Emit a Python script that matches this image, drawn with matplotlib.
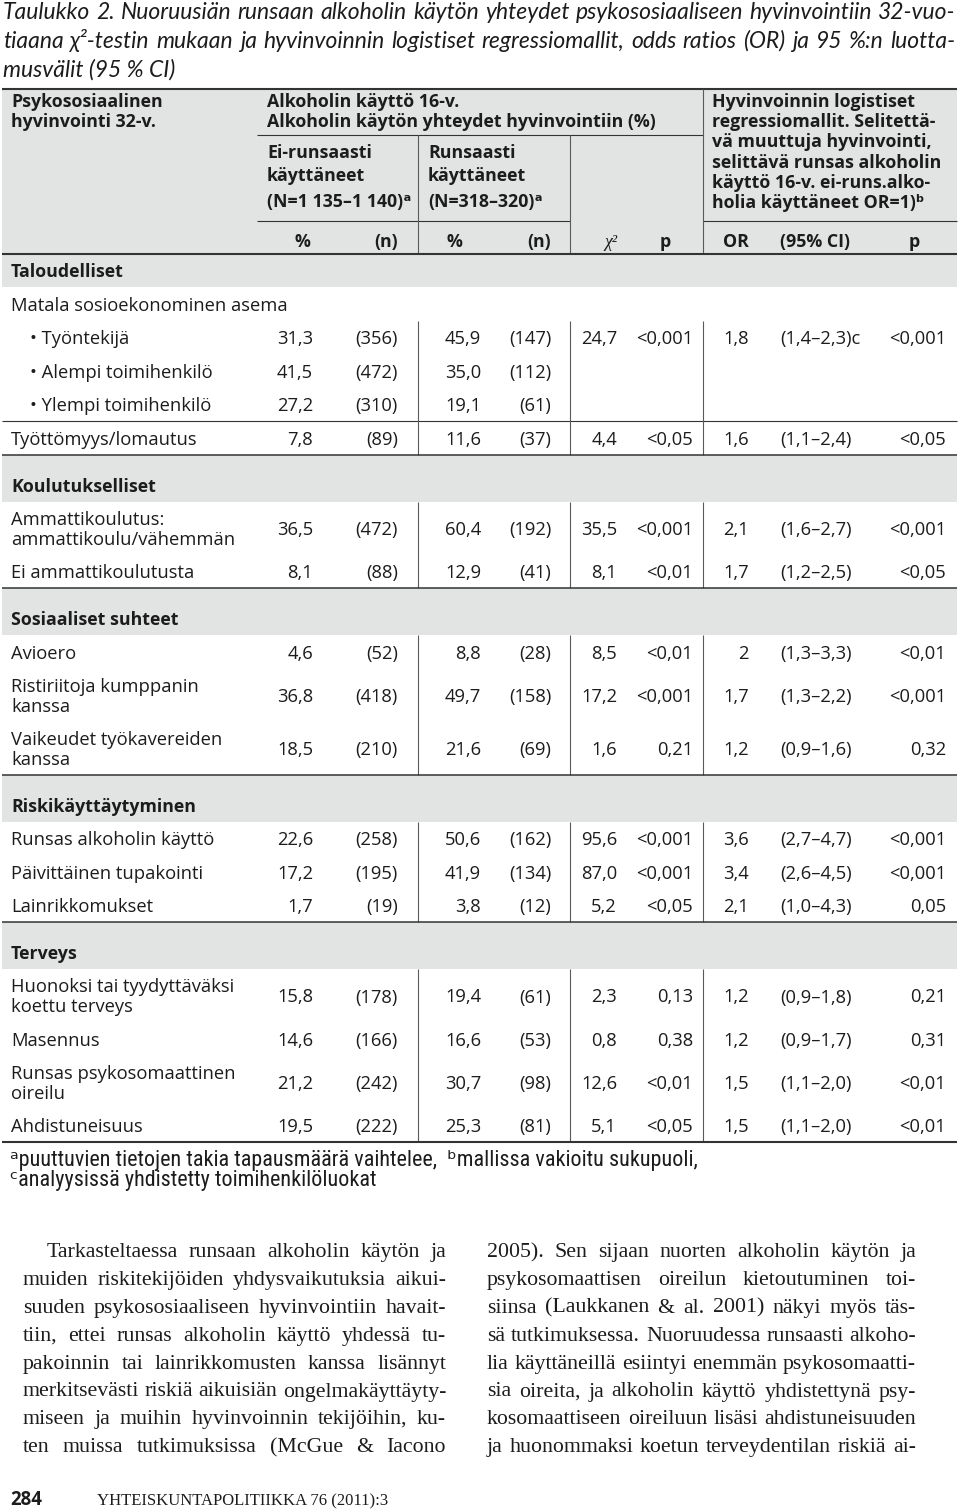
import matplotlib
matplotlib.use("Agg")
import matplotlib.pyplot as plt
from matplotlib.patches import Rectangle
from matplotlib import font_manager

# ---- data ---------------------------------------------------------------
title_lines = [
    "Taulukko 2. Nuoruusiän runsaan alkoholin käytön yhteydet psykososiaaliseen hyvinvointiin 32-vuo-",
    "tiaana χ²-testin mukaan ja hyvinvoinnin logistiset regressiomallit, odds ratios (OR) ja 95 %:n luotta-",
    "musvälit (95 % CI)",
]
head_left = ["Psykososiaalinen", "hyvinvointi 32-v."]
head_mid = ["Alkoholin käyttö 16-v.", "Alkoholin käytön yhteydet hyvinvointiin (%)"]
group_ei = ["Ei-runsaasti", "käyttäneet", "(N=1 135–1 140)ᵃ"]
group_run = ["Runsaasti", "käyttäneet", "(N=318–320)ᵃ"]
head_right = ["Hyvinvoinnin logistiset", "regressiomallit. Selitettä-",
              "vä muuttuja hyvinvointi,", "selittävä runsas alkoholin",
              "käyttö 16-v. ei-runs.alko-", "holia käyttäneet OR=1)ᵇ"]
col_heads = ["%", "(n)", "%", "(n)", "χ²", "p", "OR", "(95% CI)", "p"]

sections = ["Taloudelliset", "Koulutukselliset", "Sosiaaliset suhteet",
            "Riskikäyttäytyminen", "Terveys"]
row_section = [0, 0, 0, 0, 0, 1, 1, 2, 2, 2, 3, 3, 3, 4, 4, 4, 4]
row_labels = ["Matala sosioekonominen asema", "• Työntekijä", "• Alempi toimihenkilö",
              "• Ylempi toimihenkilö", "Työttömyys/lomautus",
              "Ammattikoulutus:\nammattikoulu/vähemmän", "Ei ammattikoulutusta",
              "Avioero", "Ristiriitoja kumppanin\nkanssa", "Vaikeudet työkavereiden\nkanssa",
              "Runsas alkoholin käyttö", "Päivittäinen tupakointi", "Lainrikkomukset",
              "Huonoksi tai tyydyttäväksi\nkoettu terveys", "Masennus",
              "Runsas psykosomaattinen\noireilu", "Ahdistuneisuus"]
pct_ei = [None, 31.3, 41.5, 27.2, 7.8, 36.5, 8.1, 4.6, 36.8, 18.5, 22.6, 17.2, 1.7, 15.8, 14.6, 21.2, 19.5]
n_ei = [None, 356, 472, 310, 89, 472, 88, 52, 418, 210, 258, 195, 19, 178, 166, 242, 222]
pct_run = [None, 45.9, 35.0, 19.1, 11.6, 60.4, 12.9, 8.8, 49.7, 21.6, 50.6, 41.9, 3.8, 19.4, 16.6, 30.7, 25.3]
n_run = [None, 147, 112, 61, 37, 192, 41, 28, 158, 69, 162, 134, 12, 61, 53, 98, 81]
chi2 = [None, 24.7, None, None, 4.4, 35.5, 8.1, 8.5, 17.2, 1.6, 95.6, 87.0, 5.2, 2.3, 0.8, 12.6, 5.1]
p_chi = [None, "<0,001", "", "", "<0,05", "<0,001", "<0,01", "<0,01", "<0,001", "0,21",
         "<0,001", "<0,001", "<0,05", "0,13", "0,38", "<0,01", "<0,05"]
odds = [None, "1,8", "", "", "1,6", "2,1", "1,7", "2", "1,7", "1,2", "3,6", "3,4", "2,1",
        "1,2", "1,2", "1,5", "1,5"]
ci = [None, "(1,4–2,3)c", "", "", "(1,1–2,4)", "(1,6–2,7)", "(1,2–2,5)", "(1,3–3,3)",
      "(1,3–2,2)", "(0,9–1,6)", "(2,7–4,7)", "(2,6–4,5)", "(1,0–4,3)", "(0,9–1,8)",
      "(0,9–1,7)", "(1,1–2,0)", "(1,1–2,0)"]
p_or = [None, "<0,001", "", "", "<0,05", "<0,001", "<0,05", "<0,01", "<0,001", "0,32",
        "<0,001", "<0,001", "0,05", "0,21", "0,31", "<0,01", "<0,01"]
rule_before = [4]

footnotes = ["ᵃpuuttuvien tietojen takia tapausmäärä vaihtelee,  ᵇmallissa vakioitu sukupuoli,",
             "ᶜanalyysissä yhdistetty toimihenkilöluokat"]
col_left = [
    "Tarkasteltaessa runsaan alkoholin käytön ja",
    "muiden riskitekijöiden yhdysvaikutuksia aikui-",
    "suuden psykososiaaliseen hyvinvointiin havait-",
    "tiin, ettei runsas alkoholin käyttö yhdessä tu-",
    "pakoinnin tai lainrikkomusten kanssa lisännyt",
    "merkitsevästi riskiä aikuisiän ongelmakäyttäyty-",
    "miseen ja muihin hyvinvoinnin tekijöihin, ku-",
    "ten muissa tutkimuksissa (McGue & Iacono",
]
col_right = [
    "2005). Sen sijaan nuorten alkoholin käytön ja",
    "psykosomaattisen oireilun kietoutuminen toi-",
    "siinsa (Laukkanen & al. 2001) näkyi myös täs-",
    "sä tutkimuksessa. Nuoruudessa runsaasti alkoho-",
    "lia käyttäneillä esiintyi enemmän psykosomaatti-",
    "sia oireita, ja alkoholin käyttö yhdistettynä psy-",
    "kosomaattiseen oireiluun lisäsi ahdistuneisuuden",
    "ja huonommaksi koetun terveydentilan riskiä ai-",
]
page_no = "284"
journal = "YHTEISKUNTAPOLITIIKKA 76 (2011):3"


# ---- fonts --------------------------------------------------------------
def pick(*names):
    have = {f.name for f in font_manager.fontManager.ttflist}
    for n in names:
        if n in have:
            return n
    return "DejaVu Sans"

SANS = [pick("Open Sans", "Noto Sans"), "DejaVu Sans"]
NARROW = [pick("Liberation Sans Narrow", "DejaVu Sans Condensed", "Roboto Condensed", "Open Sans"), "DejaVu Sans"]
ITAL = [pick("Lato", "Liberation Sans"), "DejaVu Sans"]
SERIF = [pick("Liberation Serif", "DejaVu Serif"), "DejaVu Serif"]

TXT = "#1c1c1c"
GRAY = "#e2e3e3"
RULE = "#333333"
VRULE = "#5a5a5a"

W, H = 960, 1509
fig = plt.figure(figsize=(W / 100, H / 100), dpi=100)
ax = fig.add_axes([0, 0, 1, 1])
ax.set_xlim(0, W)
ax.set_ylim(H, 0)
ax.axis("off")
rend = fig.canvas.get_renderer()


def width(s, size, **kw):
    t = ax.text(0, 0, s, fontsize=size, **kw)
    w = t.get_window_extent(rend).width
    t.remove()
    return w


def fit(s, target, **kw):
    return 10 * target / width(s, 10, **kw)


def txt(x, y, s, size, ha="left", **kw):
    kw.setdefault("color", TXT)
    ax.text(x, y, s, fontsize=size, ha=ha, va="baseline", **kw)


def justify(words_line, x0, x1, y, size, **kw):
    words = words_line.split()
    ws = [width(w, size, **kw) for w in words]
    gap = (x1 - x0 - sum(ws)) / max(len(words) - 1, 1)
    x = x0
    for w, wd in zip(words, ws):
        txt(x, y, w, size, **kw)
        x += wd + gap


def hline(y, x0=2, x1=957, lw=0.8, c=RULE):
    ax.plot([x0, x1], [y, y], color=c, lw=lw, solid_capstyle="butt")


def vline(x, y0, y1):
    ax.plot([x, x], [y0, y1], color=VRULE, lw=0.8, solid_capstyle="butt")


def fmt(v, dec=1):
    return f"{v:.{dec}f}".replace(".", ",")


L, R = 2, 957
BODY = fit("Matala sosioekonominen asema", 276, family=SANS)
BOLD = fit("Alkoholin käytön yhteydet hyvinvointiin (%)", 390, family=SANS, fontweight="bold")
tk = dict(family=ITAL, style="italic")
TITLE = fit(title_lines[0], 945, **tk)

# ---- title --------------------------------------------------------------
justify(title_lines[0], 3, 955, 19, TITLE, **tk)
justify(title_lines[1], 3, 955, 48, TITLE, **tk)
txt(3, 77, title_lines[2], TITLE, **tk)

# ---- header -------------------------------------------------------------
ax.add_patch(Rectangle((L, 89), R - L, 254 - 89, color=GRAY, lw=0, zorder=0))
hb = dict(family=SANS, fontweight="bold")
for k, s in enumerate(head_left):
    txt(11, 107 + 20 * k, s, BOLD, **hb)
for k, s in enumerate(head_mid):
    txt(267, 107 + 20 * k, s, BOLD, **hb)
for k, s in enumerate(group_ei):
    txt(267, [158, 181, 207][k], s, BOLD, **hb)
for k, s in enumerate(group_run):
    txt(428, [158, 181, 207][k], s, BOLD, **hb)
for k, s in enumerate(head_right):
    txt(712, 107 + 20.2 * k, s, BOLD, **hb)

head_pos = [(310, "right"), (398, "right"), (462, "right"), (551, "right"),
            (618, "right"), (665, "center"), (749, "right"), (780, "left"), (914, "center")]
for (x, ha), s in zip(head_pos, col_heads):
    if s == "χ²":
        txt(x, 247, s, BOLD, ha=ha, family=SERIF, style="italic")
    else:
        txt(x, 247, s, BOLD, ha=ha, **hb)

hline(89, lw=1.5)
hline(135, 257, 703)
hline(221, 257, 570)
hline(221, 703, R)
vline(418, 135, 254)
vline(570, 135, 254)
vline(703, 89, 254)

# ---- body ---------------------------------------------------------------
VX = [418, 570, 703]
cols = [(313, "right"), (398, "right"), (481, "right"), (551, "right"),
        (617, "right"), (693, "right"), (749, "right"), (780, "left"), (946, "right")]
y = 254
for s, name in enumerate(sections):
    band = 33 if s == 0 else 47
    ax.add_patch(Rectangle((L, y), R - L, band, color=GRAY, lw=0, zorder=0))
    txt(11, y + band - 10, name, BOLD, **hb)
    y += band
    vtop = y
    for i in [j for j, sec in enumerate(row_section) if sec == s]:
        if i in rule_before:
            hline(y)
        lines = row_labels[i].split("\n")
        h = 53 if len(lines) > 1 else 33.5
        base = y + h / 2 + 7
        if len(lines) > 1:
            txt(11, base - 10, lines[0], BODY, family=SANS)
            txt(11, base + 10, lines[1], BODY, family=SANS)
        else:
            xl = 30 if lines[0].startswith("•") else 11
            txt(xl, base, lines[0], BODY, family=SANS)
        if pct_ei[i] is None:
            y += h
            vtop = y
            continue
        vals = [fmt(pct_ei[i]), f"({n_ei[i]})", fmt(pct_run[i]), f"({n_run[i]})",
                fmt(chi2[i]) if chi2[i] is not None else "", p_chi[i], odds[i], ci[i], p_or[i]]
        for (x, ha), v in zip(cols, vals):
            if v:
                txt(x, base, v, BODY, ha=ha, family=SANS)
        y += h
    for x in VX:
        vline(x, vtop, y)
    hline(y, lw=1.5 if s == len(sections) - 1 else 1.1)
hline(254, lw=1.5)

# ---- footnotes ----------------------------------------------------------
FOOT = fit(footnotes[1][1:], 355, family=NARROW)
txt(10, 1166, footnotes[0], FOOT, family=NARROW)
txt(10, 1186, footnotes[1], FOOT, family=NARROW)

# ---- running text -------------------------------------------------------
PROSE = fit(col_right[6], 428, family=SERIF)
for k, line in enumerate(col_left):
    justify(line, 47 if k == 0 else 23, 446, 1257 + 27.9 * k, PROSE, family=SERIF)
for k, line in enumerate(col_right):
    justify(line, 487, 916, 1257 + 27.9 * k, PROSE, family=SERIF)

txt(10, 1505, page_no, fit(page_no, 32, family=SANS, fontweight="bold"), family=SANS, fontweight="bold")
txt(97, 1505, journal, fit(journal, 291, family=SERIF), family=SERIF)

fig.savefig("out.png", dpi=100, facecolor="white")
